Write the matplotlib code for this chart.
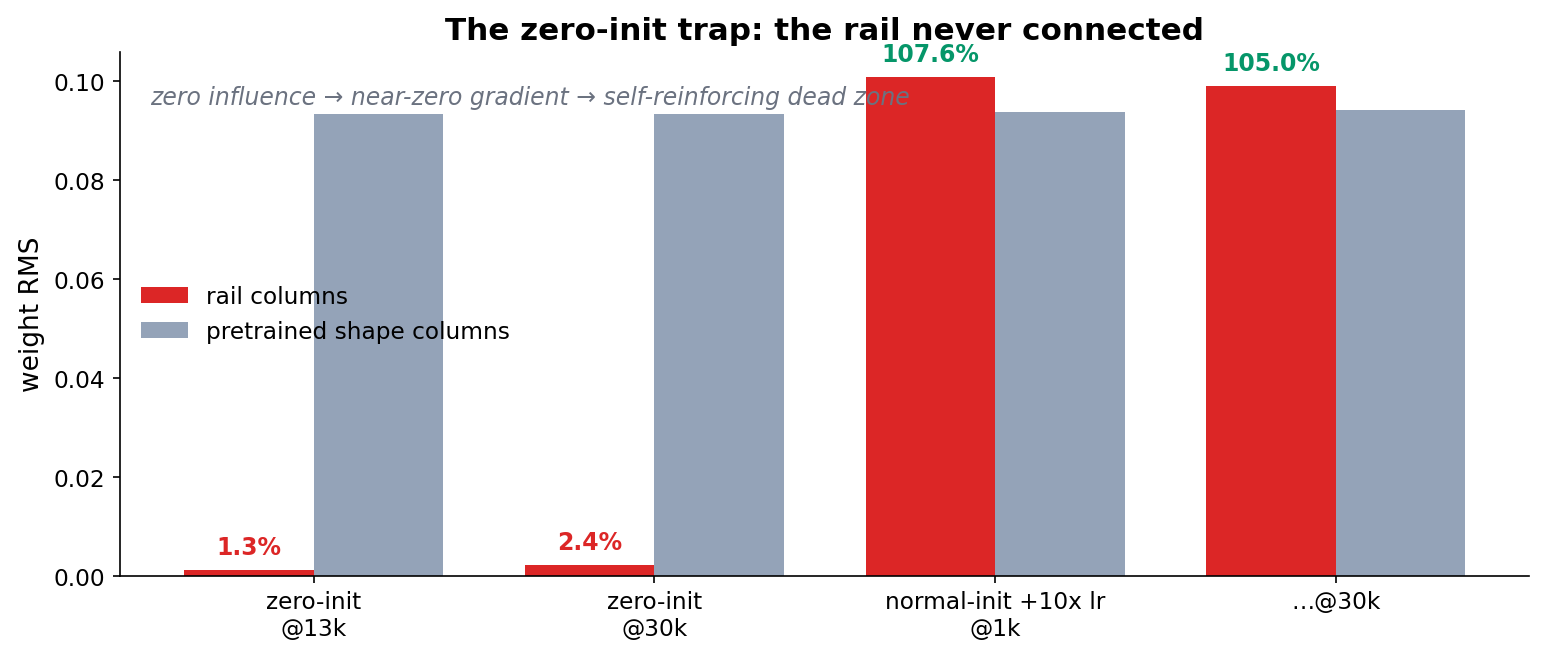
import matplotlib
matplotlib.use("Agg")
import matplotlib.pyplot as plt
import numpy as np

categories = ["zero-init\n@13k", "zero-init\n@30k", "normal-init +10x lr\n@1k", "\u2026@30k"]
rail = [0.00122, 0.00224, 0.1008, 0.0990]
pretrained = [0.0934, 0.0934, 0.0937, 0.0943]
pct_labels = ["1.3%", "2.4%", "107.6%", "105.0%"]
pct_colors = ["#dc2626", "#dc2626", "#059669", "#059669"]

fig, ax = plt.subplots(figsize=(10.31, 4.41), dpi=150)
x = np.arange(len(categories))
w = 0.38
ax.bar(x - w/2, rail, w, color="#dc2626", label="rail columns")
ax.bar(x + w/2, pretrained, w, color="#94a3b8", label="pretrained shape columns")

for xi, v, lab, c in zip(x, rail, pct_labels, pct_colors):
    ax.annotate(lab, (xi - w/2, v), xytext=(0, 5), textcoords="offset points",
                ha="center", va="bottom", color=c, fontweight="bold", fontsize=11.3)

ax.set_xticks(x)
ax.set_xticklabels(categories, fontsize=11.2)
ax.tick_params(axis="y", labelsize=11.2)
ax.set_ylabel("weight RMS", fontsize=12.7)
ax.set_ylim(0, max(rail) * 1.05)
ax.set_title("The zero-init trap: the rail never connected", fontsize=14.9, fontweight="bold")
ax.text(0.021, 0.914, "zero influence \u2192 near-zero gradient \u2192 self-reinforcing dead zone",
        transform=ax.transAxes, fontsize=11.3, style="italic", color="#6b7280", va="center")
ax.legend(loc="center left", frameon=False, fontsize=11.2)
ax.spines["top"].set_visible(False)
ax.spines["right"].set_visible(False)
fig.subplots_adjust(left=0.0776, right=0.989, top=0.920, bottom=0.1284)
fig.savefig("out.png", dpi=150)
